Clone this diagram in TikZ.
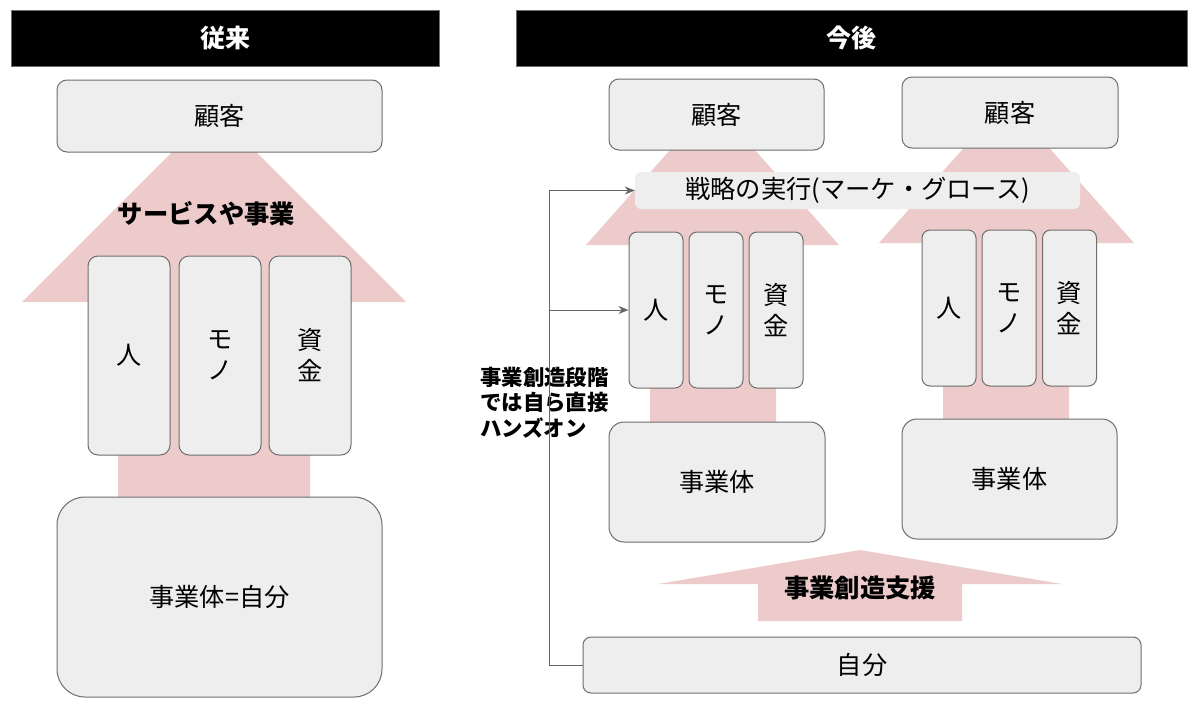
\documentclass[tikz,border=0pt]{standalone}
\usepackage{fontspec}
\setmainfont{Noto Sans CJK JP}
\newfontfamily\jp{Noto Sans CJK JP}
\usetikzlibrary{arrows.meta}
\definecolor{pinkarrow}{HTML}{EDCBCB}
\definecolor{boxfill}{HTML}{EEEEEE}
\definecolor{boxline}{HTML}{6E6E6E}
\definecolor{connline}{HTML}{666666}
\tikzset{
  hdr/.style={fill=black, draw=boxline, line width=0.8pt, text=white, font=\jp\bfseries\fontsize{25}{29}\selectfont, inner sep=0pt},
  gbox/.style={fill=boxfill, draw=boxline, line width=1pt, inner sep=0pt, font=\jp\fontsize{25.2}{31}\selectfont, align=center},
  sbox/.style={fill=boxfill, draw=none, inner sep=0pt, rounded corners=6pt, font=\jp\fontsize{25.3}{29}\selectfont},
  boldlabel/.style={inner sep=0pt, font=\jp\bfseries\fontsize{25.3}{29}\selectfont},
  sidelabel/.style={inner sep=0pt, font=\jp\bfseries\fontsize{21.4}{25.5}\selectfont, align=left, anchor=west},
  conn/.style={draw=connline, line width=1pt},
  connarrow/.style={conn, -{Stealth[length=10pt,width=8pt]}},
  bigarrow/.style={fill=pinkarrow, draw=none}
}
\begin{document}
\begin{tikzpicture}[x=1pt, y=-1pt]
\useasboundingbox (0,0) rectangle (1200,723);
\fill[white] (0,0) rectangle (1200,723);

% headers
\node[hdr, minimum width=428, minimum height=56] (hleft) at (225,38) {従来};
\node[hdr, minimum width=671, minimum height=56] (hright) at (851.5,38) {今後};

% pink arrows
\path[bigarrow] (118,500) -- (118,302) -- (22,302) -- (214,110) -- (406,302) -- (310,302) -- (310,500) -- cycle;
\path[bigarrow] (650,425) -- (650,245) -- (586,245) -- (712.5,102) -- (839,245) -- (776,245) -- (776,425) -- cycle;
\path[bigarrow] (943,422) -- (943,243) -- (879,243) -- (1006.5,100) -- (1134,243) -- (1069,243) -- (1069,422) -- cycle;
\path[bigarrow] (758,621) -- (758,584) -- (658,584) -- (860,550) -- (1062,584) -- (962,584) -- (962,621) -- cycle;

% left side
\node[gbox, rounded corners=10pt, minimum width=325, minimum height=72] (kokyakuL) at (219.5,116) {顧客};
\node[boldlabel] (serviceL) at (206.5,214) {サービスや事業};
\node[gbox, rounded corners=10pt, minimum width=82, minimum height=199] (hitoL) at (129,355.5) {人};
\node[gbox, rounded corners=10pt, minimum width=82, minimum height=199] (monoL) at (220,355.5) {モ\\ノ};
\node[gbox, rounded corners=10pt, minimum width=82, minimum height=199] (shikinL) at (310,355.5) {資\\金};
\node[gbox, rounded corners=28pt, minimum width=325, minimum height=200] (jigyoL) at (219.5,597) {事業体=自分};

% right side
\node[gbox, rounded corners=10pt, minimum width=215, minimum height=71] (kokyaku1) at (716.5,114.5) {顧客};
\node[gbox, rounded corners=10pt, minimum width=216, minimum height=71] (kokyaku2) at (1010,112.5) {顧客};
\node[sbox, minimum width=445, minimum height=37] (senryaku) at (857.5,190.5) {戦略の実行(マーケ・グロース)};

\node[gbox, rounded corners=8pt, minimum width=54, minimum height=156] (hito1) at (656,310) {人};
\node[gbox, rounded corners=8pt, minimum width=54, minimum height=156] (mono1) at (716,310) {モ\\ノ};
\node[gbox, rounded corners=8pt, minimum width=54, minimum height=156] (shikin1) at (776,310) {資\\金};

\node[gbox, rounded corners=8pt, minimum width=54, minimum height=156] (hito2) at (949,308) {人};
\node[gbox, rounded corners=8pt, minimum width=54, minimum height=156] (mono2) at (1009,308) {モ\\ノ};
\node[gbox, rounded corners=8pt, minimum width=54, minimum height=156] (shikin2) at (1069.5,308) {資\\金};

\node[gbox, rounded corners=15pt, minimum width=216, minimum height=120] (jigyo1) at (717,482) {事業体};
\node[gbox, rounded corners=15pt, minimum width=215, minimum height=120] (jigyo2) at (1009.5,479) {事業体};

\node[boldlabel] (shien) at (860,588) {事業創造支援};
\node[gbox, rounded corners=8pt, minimum width=558, minimum height=56] (jibun) at (862,665) {自分};

\node[sidelabel] (handson) at (480,402.5) {事業創造段階\\では自ら直接\\ハンズオン};

% connectors
\coordinate (corner) at (549,665);
\coordinate (branch) at (549,310);
\draw[connarrow] (jibun.west) -- (corner) |- (senryaku.west);
\draw[connarrow] (branch) -- (hito1.west);
\end{tikzpicture}
\end{document}
